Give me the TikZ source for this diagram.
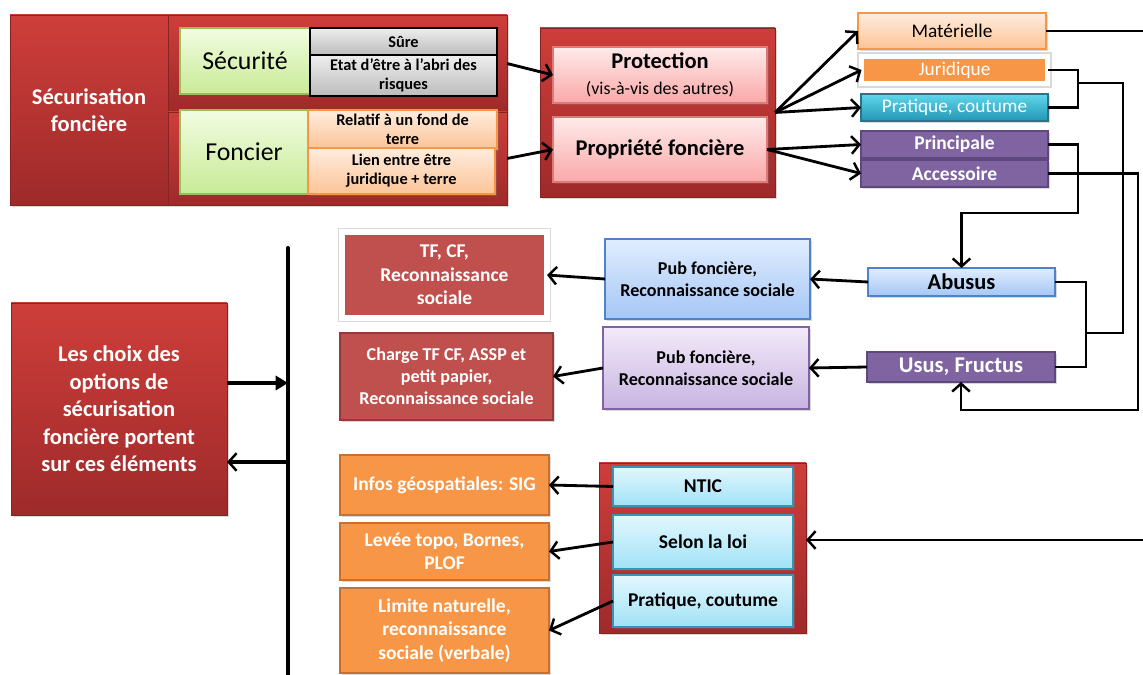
\documentclass[tikz,border=0pt]{standalone}
\usepackage{fontspec}
\setmainfont{Carlito}
\usetikzlibrary{arrows.meta, shadows}

\definecolor{redtop}{RGB}{206,62,58}
\definecolor{redbot}{RGB}{158,42,42}
\definecolor{greentop}{RGB}{242,252,225}
\definecolor{greenbot}{RGB}{200,235,150}
\definecolor{greenline}{RGB}{155,190,90}
\definecolor{greytop}{RGB}{238,238,238}
\definecolor{greybot}{RGB}{188,188,188}
\definecolor{peachtop}{RGB}{255,236,222}
\definecolor{peachbot}{RGB}{252,196,150}
\definecolor{orangefill}{RGB}{247,150,70}
\definecolor{orangedark}{RGB}{200,112,48}
\definecolor{pinktop}{RGB}{255,234,234}
\definecolor{pinkbot}{RGB}{250,168,168}
\definecolor{pinkline}{RGB}{225,120,120}
\definecolor{tealtop}{RGB}{95,215,235}
\definecolor{tealbot}{RGB}{35,150,180}
\definecolor{tealline}{RGB}{45,115,135}
\definecolor{violetfill}{RGB}{128,100,162}
\definecolor{violetline}{RGB}{95,72,125}
\definecolor{bluetop}{RGB}{224,237,255}
\definecolor{bluebot}{RGB}{165,198,245}
\definecolor{blueline}{RGB}{80,130,200}
\definecolor{lilactop}{RGB}{242,234,249}
\definecolor{lilacbot}{RGB}{200,180,225}
\definecolor{brick}{RGB}{192,80,77}
\definecolor{cyantop}{RGB}{226,247,255}
\definecolor{cyanbot}{RGB}{160,226,246}
\definecolor{cyanline}{RGB}{50,150,180}

\begin{document}
\begin{tikzpicture}[x=0.02cm, y=-0.02cm,
		every node/.style={inner sep=0pt, outer sep=0pt, align=center},
		sz/.style 2 args={minimum width=#1*0.02cm, minimum height=#2*0.02cm},
		shad/.style={drop shadow={opacity=0.3, shadow xshift=1.2pt, shadow yshift=-1.2pt}},
		framed/.style={preaction={draw=black!15, line width=5pt}, draw=white, line width=3pt},
		redbox/.style={shad, top color=redtop, bottom color=redbot, draw=redbot!85!black, line width=0.4pt, text=white},
		greenbox/.style={top color=greentop, bottom color=greenbot, draw=greenline, line width=0.8pt},
		greybox/.style={top color=greytop, bottom color=greybot, draw=black, line width=0.8pt},
		peachbox/.style={shad, top color=peachtop, bottom color=peachbot, draw=orangefill, line width=0.8pt},
		pinkbox/.style={shad, top color=pinktop, bottom color=pinkbot, draw=pinkline, line width=0.6pt},
		orangebox/.style={shad, fill=orangefill, draw=orangedark, line width=0.8pt, text=white},
		tealbox/.style={shad, top color=tealtop, bottom color=tealbot, draw=tealline, line width=0.6pt, text=white},
		violetbox/.style={shad, fill=violetfill, draw=violetline, line width=0.8pt, text=white},
		bluebox/.style={shad, top color=bluetop, bottom color=bluebot, draw=blueline, line width=0.8pt},
		lilacbox/.style={shad, top color=lilactop, bottom color=lilacbot, draw=violetfill, line width=0.8pt},
		brickbox/.style={shad, fill=brick, text=white},
		cyanbox/.style={shad, top color=cyantop, bottom color=cyanbot, draw=cyanline, line width=0.8pt},
		tbig/.style={font=\fontsize{12.8}{15.7}\selectfont\bfseries},
		tplain/.style={font=\fontsize{14.7}{17}\selectfont},
		tsmall/.style={font=\fontsize{9.3}{10.8}\selectfont\bfseries},
		tname/.style={font=\fontsize{11}{13}\selectfont},
		tlabel/.style={font=\fontsize{11.1}{13.3}\selectfont\bfseries},
		tpub/.style={font=\fontsize{10.3}{12.6}\selectfont\bfseries},
		link/.style={line width=1.6pt, -{Straight Barb[length=4.5pt, width=10pt, line width=1.4pt]}},
		wire/.style={line width=1.6pt}
	]
	\useasboundingbox (0,0) rectangle (1143,675);

	\node[redbox, sz={158}{190}, tbig] (sf) at (89,110) {Sécurisation\\foncière};
	\node[redbox, sz={339}{97}] (rowA) at (337.5,63.5) {};
	\node[redbox, sz={339}{93}] (rowB) at (337.5,158.5) {};
	\node[greenbox, sz={130}{66}, tplain] (secu) at (245,61) {Sécurité};
	\node[greybox, sz={187}{27}, tsmall] (sure) at (403.5,41.5) {Sûre};
	\node[greybox, sz={187}{41}, tsmall] (etat) at (403.5,75.5) {Etat d’être à l’abri des\\risques};
	\node[greenbox, sz={128}{84}, tplain] (fonc) at (244,152) {Foncier};
	\node[peachbox, sz={189}{39}, tsmall] (relatif) at (402.5,129.5) {Relatif à un fond de\\terre};
	\node[peachbox, sz={187}{46}, tsmall] (lien) at (401.5,171) {Lien entre être\\juridique + terre};

	\node[redbox, sz={235}{169}] (cont2) at (657.5,112.5) {};
	\node[pinkbox, sz={214}{56}, tbig] (prot) at (660,75) {Protection\\[-1pt]{\fontsize{10.2}{12}\selectfont\mdseries (vis-à-vis des autres)}};
	\node[pinkbox, sz={214}{65}, tbig] (prop) at (660,149.5) {Propriété foncière};

	\node[peachbox, sz={188}{36}, tname] (mat) at (952,31) {Matérielle};
	\node[fill=orangefill, text=white, framed, sz={186}{27}, tname] (jur) at (954.5,70) {Juridique};
	\node[tealbox, sz={187}{27}, tname] (prat) at (954.5,107.5) {Pratique, coutume};
	\node[violetbox, sz={187}{27}, tlabel] (prin) at (954.5,144.5) {Principale};
	\node[violetbox, sz={187}{27}, tlabel] (acc) at (954.5,173.5) {Accessoire};

	\node[bluebox, sz={187}{28}, tbig] (abus) at (961.5,282) {Abusus};
	\node[violetbox, sz={188}{30}, tbig] (usus) at (961,367) {Usus, Fructus};

	\node[bluebox, sz={205}{80}, tpub] (pub1) at (707.5,279) {Pub foncière,\\Reconnaissance sociale};
	\node[lilacbox, sz={206}{82}, tpub] (pub2) at (706,368) {Pub foncière,\\Reconnaissance sociale};
	\node[fill=brick, text=white, framed, sz={205}{86}, tlabel] (tf) at (444.5,275) {TF, CF,\\Reconnaissance\\sociale};
	\node[brickbox, sz={213}{87}, tpub, draw=brick!75!black, line width=1.5pt] (charge) at (446.5,376.5) {Charge TF CF, ASSP et\\petit papier,\\Reconnaissance sociale};

	\node[redbox, sz={216}{212}, tbig] (choix) at (119,409) {Les choix des\\options de\\sécurisation\\foncière portent\\sur ces éléments};
	\coordinate (bartop) at (288,248);
	\coordinate (barbot) at (288,675);
	\coordinate (in) at (288,383);
	\coordinate (out) at (288,462);

	\node[redbox, sz={207}{170}] (cont3) at (702.5,548) {};
	\node[cyanbox, sz={180}{39}, tlabel] (ntic) at (703,486.5) {NTIC};
	\node[cyanbox, sz={180}{54}, tlabel] (loi) at (703,542) {Selon la loi};
	\node[cyanbox, sz={180}{52}, tlabel] (pc) at (703,601) {Pratique, coutume};
	\node[orangebox, sz={209}{60}, tlabel] (sig) at (444.5,485) {Infos géospatiales: SIG};
	\node[orangebox, sz={209}{57}, tlabel] (topo) at (444.5,551.5) {Levée topo, Bornes,\\PLOF};
	\node[orangebox, sz={209}{85}, tlabel] (lim) at (444.5,630.5) {Limite naturelle,\\reconnaissance\\sociale (verbale)};

	\draw[link] (rowA.east) -- (prot.west);
	\draw[link] (rowB.east) -- (prop.west);
	\foreach \t in {mat, jur, prat} {
		\draw[link] (cont2.east) -- (\t.west);
	}
	\foreach \t in {prin, acc} {
		\draw[link] (prop.east) -- (\t.west);
	}

	\coordinate (redge) at (1143,31);
	\coordinate (jx) at (1078,83);
	\coordinate (ux) at (1086,333);
	\coordinate (px) at (1078,213);
	\coordinate (ax) at (1138,410);
	\draw[wire] (mat.east) -- (mat.east -| redge);
	\draw[wire] (jur.east) -| (jx) |- (prat.east);
	\draw[wire] (jx) -- ++(45,0) |- (ux);
	\draw[wire] (abus.east) -| (ux) |- (usus.east);
	\draw[link] (prin.east) -| (px) -| (abus.north);
	\draw[link] (acc.east) -| (ax) -| (usus.south);

	\draw[link] (abus.west) -- (pub1.east);
	\draw[link] (pub1.west) -- (tf.east);
	\draw[link] (usus.west) -- (pub2.east);
	\draw[link] (pub2.west) -- (charge.east);

	\draw[line width=2.3pt, line cap=round] (bartop) -- (barbot);
	\draw[line width=2pt, -{Triangle[length=7pt, width=8pt]}] (choix.east |- in) -- (in);
	\draw[link, line width=2pt] (out) -- (choix.east |- out);

	\draw[link] (ntic.west) -- (sig.east);
	\draw[link] (loi.west) -- (topo.east);
	\draw[link] (pc.west) -- (lim.east);
	\coordinate (redge2) at (1143,540);
	\draw[link] (redge2) -- (redge2 -| cont3.east);
\end{tikzpicture}
\end{document}
